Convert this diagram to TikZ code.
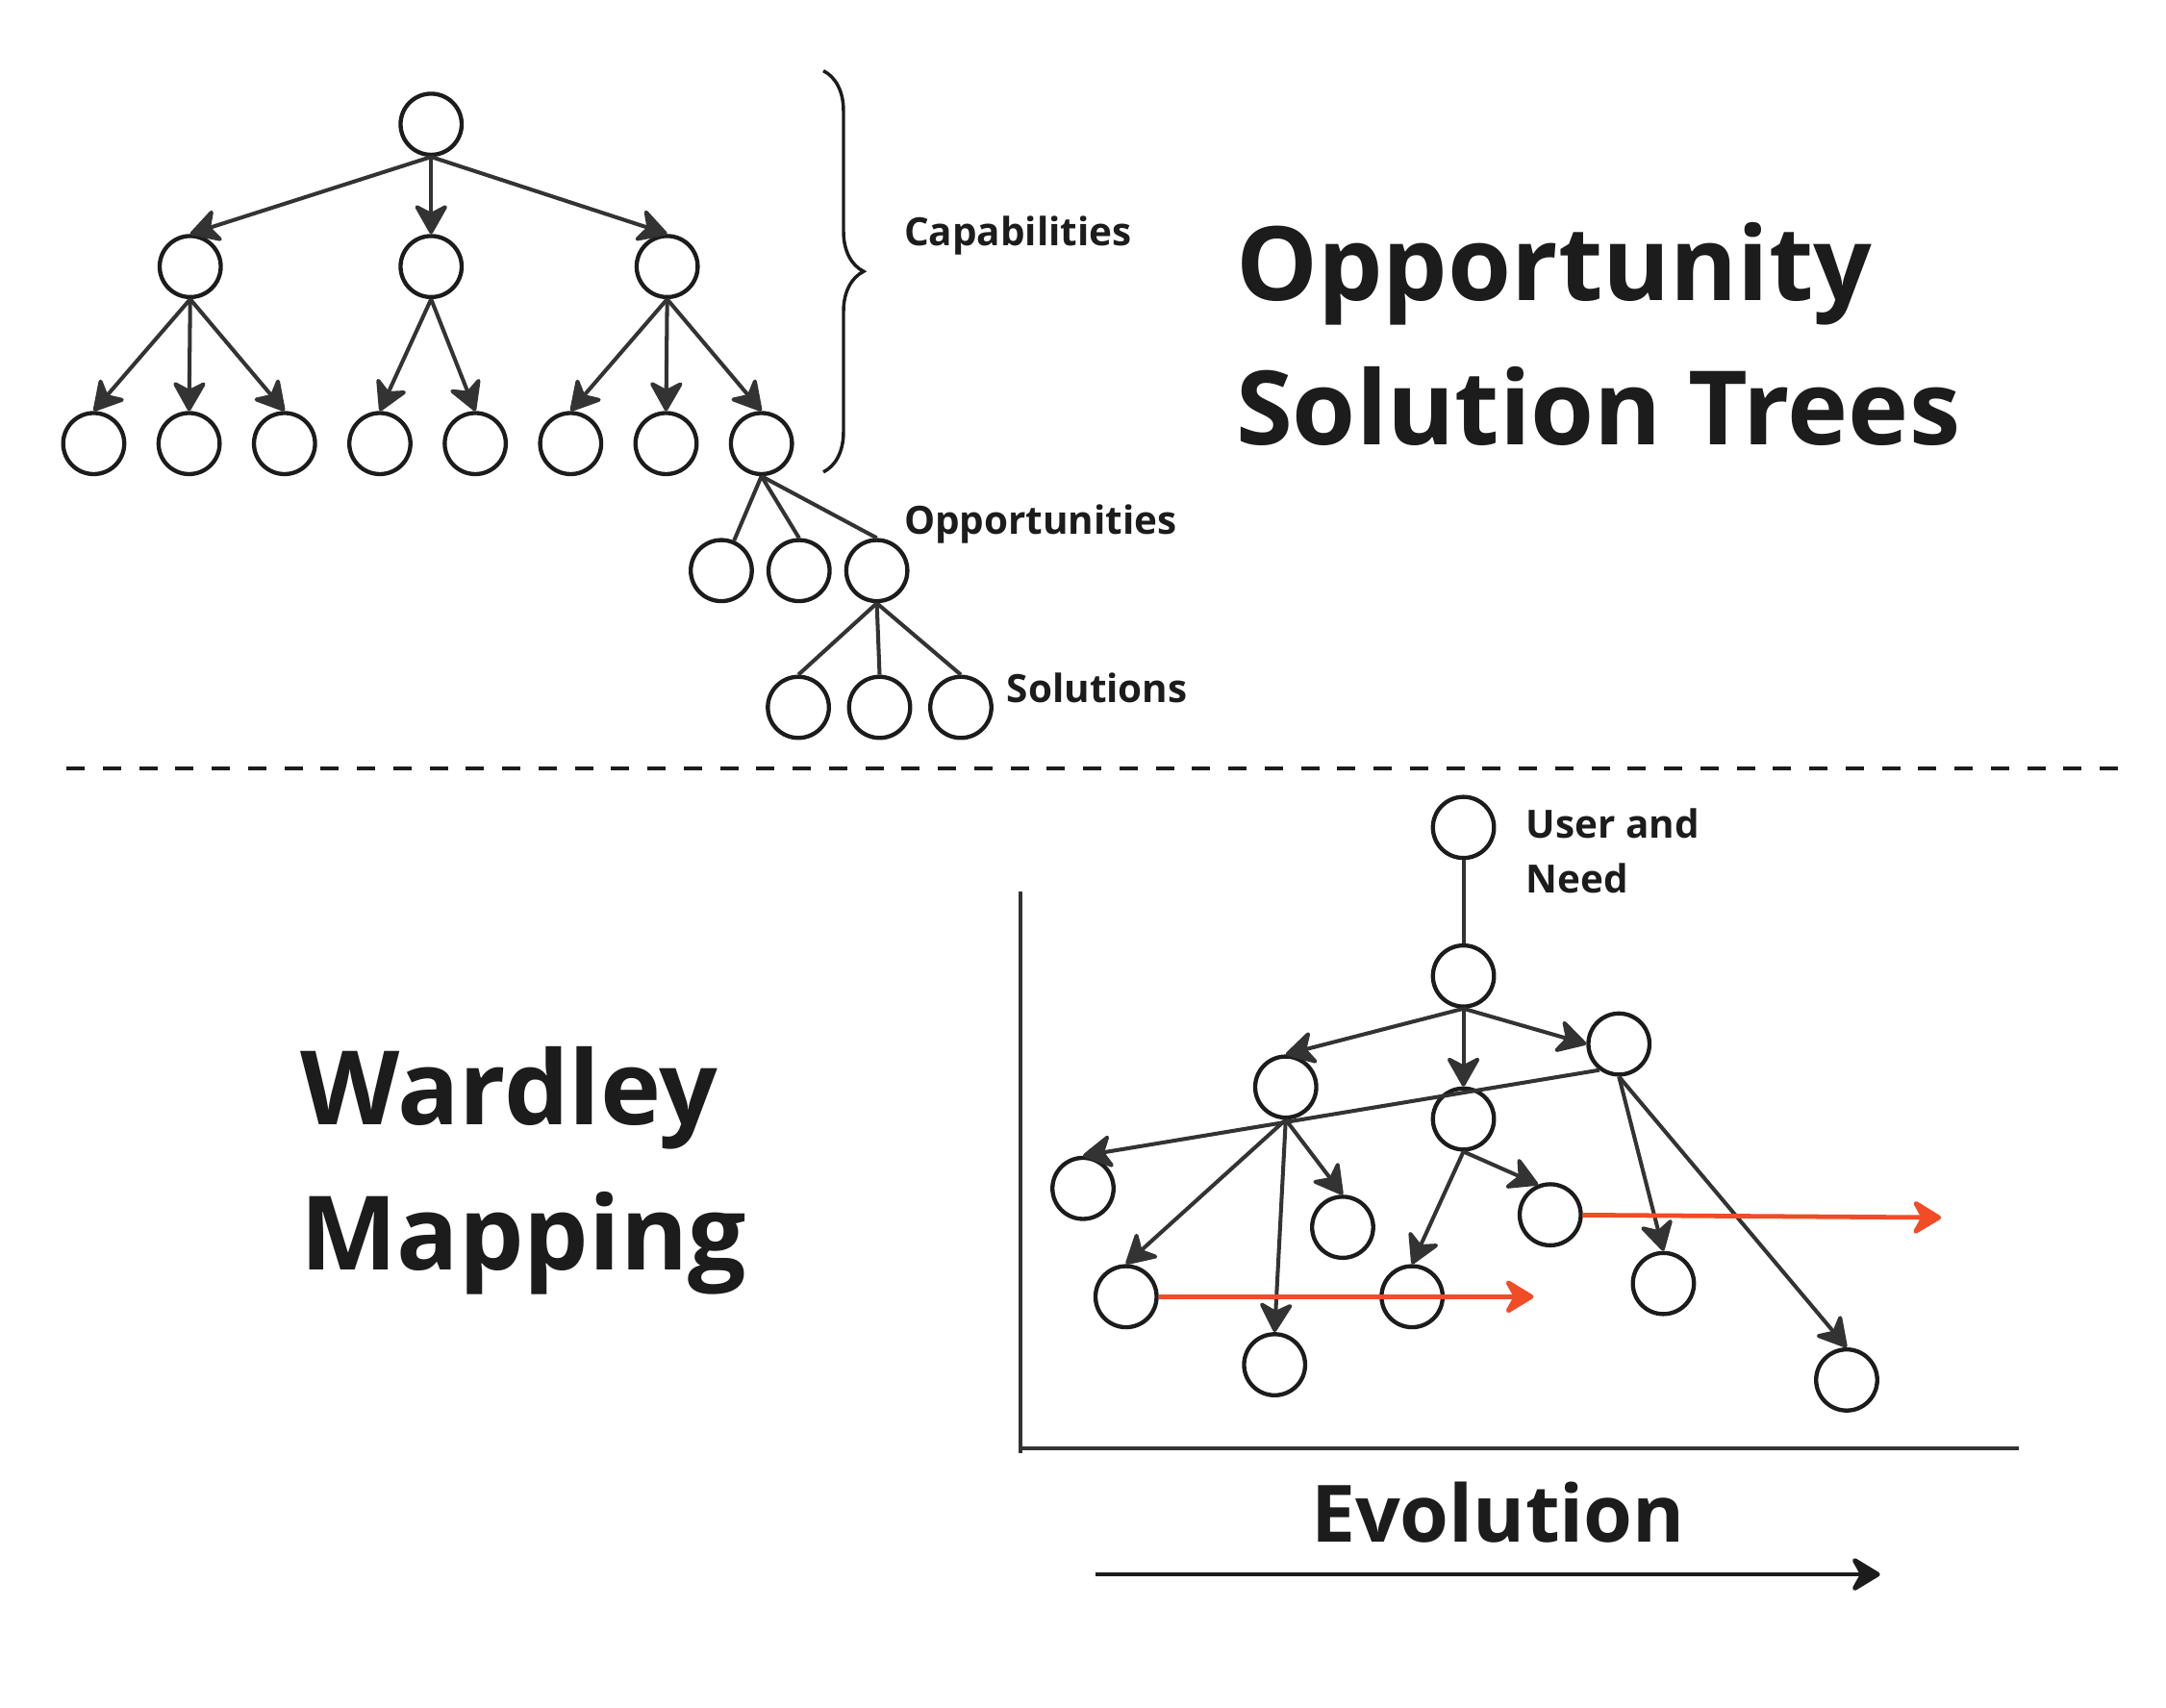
\documentclass[tikz,border=0pt]{standalone}
\usepackage{fontspec}
\setmainfont{Open Sans}
\usetikzlibrary{arrows.meta,positioning,decorations.pathreplacing}
\definecolor{osline}{RGB}{51,51,51}
\definecolor{osink}{RGB}{28,28,28}
\definecolor{wmred}{RGB}{240,76,38}
\tikzstyle{bubble} = [circle, draw=osink, line width=3pt, minimum size=44pt, inner sep=0pt]
\tikzstyle{arrow} = [line width=2.8pt, draw=osline, -{Stealth[length=24pt,width=27pt,inset=7pt,round]}]
\tikzstyle{link} = [line width=2.8pt, draw=osline]
\tikzstyle{evolve} = [line width=3.3pt, draw=wmred, -{Stealth[length=24pt,width=29pt,inset=8pt,round]}]
\tikzstyle{caption} = [inner sep=0pt, anchor=base west, text=osink, font=\bfseries\fontsize{28}{34}\selectfont]
\tikzstyle{headline} = [inner sep=0pt, anchor=base west, text=osink, font=\bfseries\fontsize{74}{90}\selectfont]

\begin{document}
\begin{tikzpicture}[x=1pt, y=-1pt]
\useasboundingbox (0,0) rectangle (1560,1230);

% Opportunity solution tree
\node (root) [bubble] at (310.5,89.5) {};
\node (cap2) [bubble, below of=root, node distance=102.5pt] {};
\node (cap1) [bubble, left of=cap2, node distance=173.5pt] {};
\node (cap3) [bubble, right of=cap2, node distance=170pt] {};

\node (leaf1) [bubble] at (67.5,319.5) {};
\node (leaf2) [bubble, right of=leaf1, node distance=68.7pt] {};
\node (leaf3) [bubble, right of=leaf2, node distance=68.7pt] {};
\node (leaf4) [bubble, right of=leaf3, node distance=68.7pt] {};
\node (leaf5) [bubble, right of=leaf4, node distance=68.7pt] {};
\node (leaf6) [bubble, right of=leaf5, node distance=68.7pt] {};
\node (leaf7) [bubble, right of=leaf6, node distance=68.7pt] {};
\node (leaf8) [bubble, right of=leaf7, node distance=68.7pt] {};

\node (opp1) [bubble] at (519.5,411) {};
\node (opp2) [bubble, right of=opp1, node distance=56pt] {};
\node (opp3) [bubble, right of=opp2, node distance=56pt] {};

\node (sol1) [bubble] at (575,509.5) {};
\node (sol2) [bubble, right of=sol1, node distance=58.5pt] {};
\node (sol3) [bubble, right of=sol2, node distance=58.5pt] {};

\draw[arrow] (root.south) -- (cap1.north);
\draw[arrow] (root.south) -- (cap2.north);
\draw[arrow] (root.south) -- (cap3.north);
\draw[arrow] (cap1.south) -- (leaf1.north);
\draw[arrow] (cap1.south) -- (leaf2.north);
\draw[arrow] (cap1.south) -- (leaf3.north);
\draw[arrow] (cap2.south) -- (leaf4.north);
\draw[arrow] (cap2.south) -- (leaf5.north);
\draw[arrow] (cap3.south) -- (leaf6.north);
\draw[arrow] (cap3.south) -- (leaf7.north);
\draw[arrow] (cap3.south) -- (leaf8.north);
\draw[link] (leaf8.south) -- (opp1);
\draw[link] (leaf8.south) -- (opp2.north);
\draw[link] (leaf8.south) -- (opp3.north);
\draw[link] (opp3.south) -- (sol1.north);
\draw[link] (opp3.south) -- (sol2.north);
\draw[link] (opp3.south) -- (sol3.north);

\coordinate (brace-top) at (593,51);
\coordinate (brace-bot) at (593,340);
\draw[line width=2.4pt, osink, decorate, decoration={brace, amplitude=29pt}] (brace-top) -- (brace-bot);

\node (capabilities) [caption] at (651,177) {Capabilities};
\node (opportunities) [caption] at (651,385) {Opportunities};
\node (solutions) [caption] at (725,506) {Solutions};

\node (ost-title1) [headline] at (890,216.5) {Opportunity};
\node (ost-title2) [headline] at (890,320.5) {Solution Trees};

% Divider
\coordinate (div-left) at (47.8,553.5);
\coordinate (div-right) at (1525.7,553.5);
\draw[line width=3pt, osink, dash pattern=on 13.2pt off 12.95pt] (div-left) -- (div-right);

% Wardley map
\node (wm-title1) [headline] at (216,810) {Wardley};
\node (wm-title2) [headline] at (216,915) {Mapping};

\coordinate (axis-top) at (735,642);
\coordinate (axis-foot) at (735,1047);
\coordinate (axis-origin) at (735,1043);
\coordinate (axis-right) at (1454,1043);
\draw[line width=3pt, osline] (axis-top) -- (axis-foot);
\draw[line width=3pt, osline] (axis-origin) -- (axis-right);

\node (user) [bubble] at (1054,596) {};
\node (need) [bubble, below of=user, node distance=107pt] {};
\node (compB) [bubble] at (926,783) {};
\node (compC) [bubble, below of=need, node distance=103pt] {};
\node (compD) [bubble] at (1166,752) {};
\node (compE) [bubble] at (780,856) {};
\node (compF) [bubble] at (967,884) {};
\node (compG) [bubble] at (1116.5,875) {};
\node (compH) [bubble] at (811,934) {};
\node (compI) [bubble] at (918,983) {};
\node (compJ) [bubble] at (1017,934) {};
\node (compK) [bubble] at (1198,924.5) {};
\node (compL) [bubble] at (1330,994) {};

\node (user-label1) [caption] at (1099,603.7) {User and};
\node (user-label2) [caption] at (1099,643.4) {Need};

\draw[link] (user.south) -- (need.north);
\draw[arrow] (need.south) -- (compB.north);
\draw[arrow] (need.south) -- (compC.north);
\draw[arrow] (need.south) -- (compD.west);
\draw[arrow] (compD.233) -- (compE.north);
\draw[arrow] (compB.south) -- (compH.north);
\draw[arrow] (compB.south) -- (compI.north);
\draw[arrow] (compB.south) -- (compF.north);
\draw[arrow] (compC.south) -- (compJ.north);
\draw[arrow] (compC.south) -- (compG.112);
\draw[arrow] (compD.south) -- (compK.north);
\draw[arrow] (compD.south) -- (compL.north);

\coordinate (h-moved) at (1104.5,934);
\coordinate (g-moved) at (1398,877);
\draw[evolve] (compH) -- (h-moved);
\draw[evolve] (compG) -- (g-moved);

\node (evolution) [caption, font=\bfseries\fontsize{57}{70}\selectfont] at (944,1111) {Evolution};
\coordinate (evo-start) at (789,1134);
\coordinate (evo-end) at (1354,1134);
\draw[evolve, draw=osink] (evo-start) -- (evo-end);
\end{tikzpicture}
\end{document}
